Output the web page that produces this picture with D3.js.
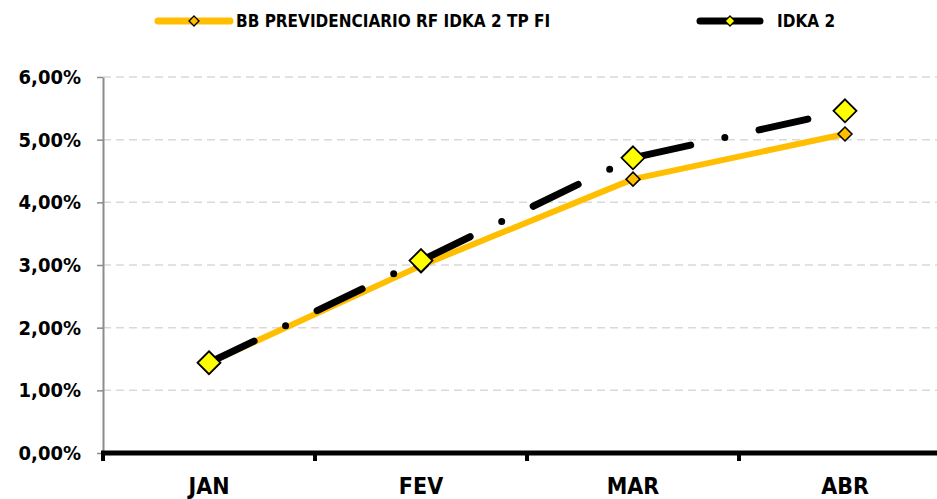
<!DOCTYPE html>
<html>
<head>
<meta charset="utf-8">
<script src="https://cdn.jsdelivr.net/npm/d3@7"></script>
<style>
  body { margin: 0; background: #fff; }
  text { font-family: "Liberation Sans Narrow", "DejaVu Sans Condensed", sans-serif; font-weight: bold; }
</style>
</head>
<body>
<div class="chart"></div>
<script>
var months = ["JAN", "FEV", "MAR", "ABR"];
var fundValues = [1.44, 2.99, 4.37, 5.09];
var idkaValues = [1.44, 3.07, 4.71, 5.46];
var yTicks = [0, 1, 2, 3, 4, 5, 6];
var seriesNames = ["BB PREVIDENCIARIO RF IDKA 2 TP FI", "IDKA 2"];

var width = 937, height = 499;

var svg = d3.select(".chart")
            .append("svg")
            .attr("width", width)
            .attr("height", height)

var x = d3.scaleBand().domain(months).range([103, 951])
var y = d3.scaleLinear().domain([0, 6]).range([453, 77])

// gridlines
svg.append("g")
   .selectAll("line")
   .data(yTicks.slice(1))
   .enter().append("line")
   .attr("x1", 103).attr("x2", width)
   .attr("y1", function(d) { return y(d) })
   .attr("y2", function(d) { return y(d) })
   .attr("stroke", "#d9d9d9")
   .attr("stroke-width", 1.5)
   .attr("stroke-dasharray", "8,5")

// y axis
var yAxis = svg.append("g")
   .attr("transform", "translate(103,0)")
   .call(d3.axisLeft(y).tickValues(yTicks).tickSize(6).tickSizeOuter(0).tickPadding(16)
         .tickFormat(function(d) { return d3.format(".2f")(d).replace(".", ",") + "%" }))
yAxis.select(".domain").attr("stroke", "#8c8c8c").attr("stroke-width", 2)
yAxis.selectAll(".tick line").attr("stroke", "#8c8c8c").attr("stroke-width", 1.5)
yAxis.selectAll(".tick text").attr("font-size", 20).attr("fill", "#000")

// x axis
var xAxis = svg.append("g")
   .attr("transform", "translate(0,453)")
   .call(d3.axisBottom(x).tickSize(0).tickPadding(0))
xAxis.select(".domain").remove()
xAxis.append("line")
   .attr("x1", 101).attr("x2", width)
   .attr("y1", 0).attr("y2", 0)
   .attr("stroke", "#000").attr("stroke-width", 5)
xAxis.selectAll(".xt")
   .data(months)
   .enter().append("line")
   .attr("x1", function(d) { return x(d) })
   .attr("x2", function(d) { return x(d) })
   .attr("y1", 0).attr("y2", 8)
   .attr("stroke", "#000").attr("stroke-width", 4)
xAxis.selectAll(".tick text")
   .attr("font-size", 23)
   .attr("fill", "#000")
   .attr("dy", null)
   .attr("y", 41)

function cx(i) { return x(months[i]) + x.bandwidth() / 2 }

var line = d3.line()
   .x(function(d, i) { return cx(i) })
   .y(function(d) { return y(d) })

var diamond = function(r) {
    return "M0," + (-r) + "L" + r + ",0L0," + r + "L" + (-r) + ",0Z"
}

// fund series
svg.append("path")
   .datum(fundValues)
   .attr("d", line)
   .attr("fill", "none")
   .attr("stroke", "#ffbf00")
   .attr("stroke-width", 6)
   .attr("stroke-linejoin", "round")

svg.selectAll(".fund-pt")
   .data(fundValues)
   .enter().append("path")
   .attr("class", "fund-pt")
   .attr("transform", function(d, i) { return "translate(" + cx(i) + "," + y(d) + ")" })
   .attr("d", diamond(7))
   .attr("fill", "#ffbf00")
   .attr("stroke", "#000")
   .attr("stroke-width", 1.5)

// idka series
svg.append("path")
   .datum(idkaValues)
   .attr("d", line)
   .attr("fill", "none")
   .attr("stroke", "#000")
   .attr("stroke-width", 7)
   .attr("stroke-linecap", "round")
   .attr("stroke-dasharray", "50,35,0,35")

svg.selectAll(".idka-pt")
   .data(idkaValues)
   .enter().append("path")
   .attr("class", "idka-pt")
   .attr("transform", function(d, i) { return "translate(" + cx(i) + "," + y(d) + ")" })
   .attr("d", diamond(11.5))
   .attr("fill", "#ffff00")
   .attr("stroke", "#000")
   .attr("stroke-width", 1.8)

// legend
var legend = svg.append("g")
var legendItems = [
    {x1: 158, x2: 230, color: "#ffbf00", fill: "#ffbf00", tx: 236},
    {x1: 700, x2: 760, color: "#000", fill: "#ffff00", tx: 777}
]
legendItems.forEach(function(l, i) {
    legend.append("line")
          .attr("x1", l.x1).attr("x2", l.x2)
          .attr("y1", 21).attr("y2", 21)
          .attr("stroke", l.color).attr("stroke-width", 7)
          .attr("stroke-linecap", "round")
    legend.append("path")
          .attr("transform", "translate(" + (l.x1 + l.x2) / 2 + ",21)")
          .attr("d", diamond(5))
          .attr("fill", l.fill)
          .attr("stroke", "#000")
          .attr("stroke-width", 1.3)
    legend.append("text")
          .attr("x", l.tx).attr("y", 27)
          .attr("font-size", 17)
          .text(seriesNames[i])
})
</script>
</body>
</html>
